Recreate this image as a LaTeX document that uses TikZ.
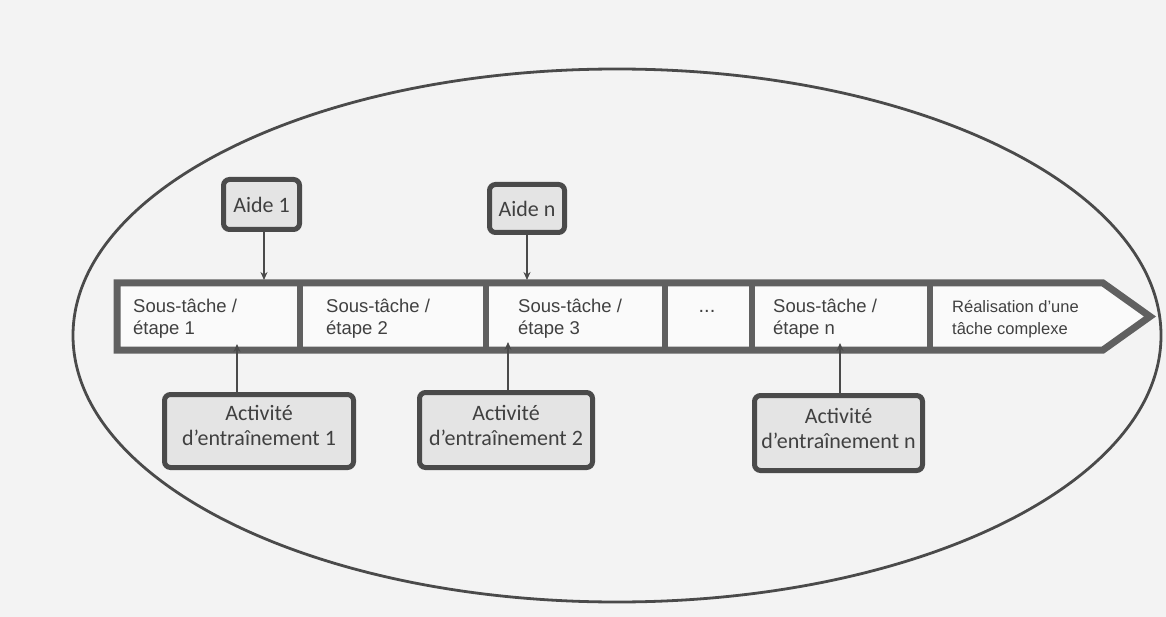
\documentclass[tikz,border=0pt]{standalone}
\usepackage{fontspec}
\setmainfont{Liberation Sans}
\newfontfamily\carl{Carlito}
\usetikzlibrary{arrows.meta}
\definecolor{paper}{HTML}{F3F3F3}
\definecolor{ink}{HTML}{4A4A4A}
\definecolor{bandink}{HTML}{606060}
\definecolor{boxfill}{HTML}{E4E4E4}
\definecolor{cellfill}{HTML}{FAFAFA}
\definecolor{txt}{HTML}{404040}
\begin{document}
\begin{tikzpicture}[x=1pt,y=-1pt,
  helpbox/.style={draw=ink, line width=5pt, rounded corners=6pt, fill=boxfill, inner sep=0pt},
  boxtext/.style={inner sep=0pt, font=\carl\fontsize{22}{25}\selectfont, text=txt, align=center},
  cellbox/.style={minimum height=67pt, inner sep=0pt, outer sep=0pt},
  celltext/.style={anchor=west, align=left, font=\fontsize{18.5}{22}\selectfont, text=txt, inner sep=0pt},
  sep/.style={draw=bandink, line width=6pt},
  conn/.style={draw=ink, line width=1.8pt, -{Stealth[length=8pt,width=7pt]}},
]
\useasboundingbox (0,0) rectangle (1166,617);
\fill[paper] (0,0) rectangle (1166,617);

% ellipse
\draw[ink, line width=2.8pt] (617,335.5) ellipse [x radius=544, y radius=266.5];

% cells of the band (named, for the connectors)
\node[cellbox, minimum width=183pt] (c1) at (208.5,316.5) {};
\node[cellbox, minimum width=186pt] (c2) at (393,316.5) {};
\node[cellbox, minimum width=179pt] (c3) at (575.5,316.5) {};
\node[cellbox, minimum width=87pt]  (c4) at (708.5,316.5) {};
\node[cellbox, minimum width=178pt] (c5) at (841,316.5) {};
\node[cellbox, minimum width=173pt] (c6) at (1016.5,316.5) {};

% band outline (arrow shape)
\draw[bandink, line width=7pt, fill=cellfill, line join=miter]
  (c1.north west) -- (c6.north east) -- (1150,316.5) -- (c6.south east) -- (c1.south west) -- cycle;
\draw[sep] (c1.north east) -- (c1.south east);
\draw[sep] (c2.north east) -- (c2.south east);
\draw[sep] (c3.north east) -- (c3.south east);
\draw[sep] (c4.north east) -- (c4.south east);
\draw[sep] (c5.north east) -- (c5.south east);

% cell texts
\node[celltext] (t1) at (133,319) {Sous-tâche /\\étape 1};
\node[celltext] (t2) at (326,319) {Sous-tâche /\\étape 2};
\node[celltext] (t3) at (518,319) {Sous-tâche /\\étape 3};
\node[font=\fontsize{20}{22}\selectfont, text=txt, inner sep=0pt] (t4) at (707,311) {...};
\node[celltext] (t5) at (773,319) {Sous-tâche /\\étape n};
\node[celltext, font=\fontsize{16.5}{22}\selectfont] (t6) at (952,319) {Réalisation d'une\\tâche complexe};

% help boxes
\node[helpbox, minimum width=76pt, minimum height=50pt] (aide1) at (261.5,204.5) {};
\node[boxtext] (aide1t) at (aide1.center) {Aide 1};
\node[helpbox, minimum width=75pt, minimum height=48pt] (aiden) at (527,208.5) {};
\node[boxtext] (aident) at (aiden.center) {Aide n};

% activity boxes
\node[helpbox, minimum width=189pt, minimum height=73pt] (act1) at (259,431) {};
\node[boxtext] (act1t) at ([yshift=6pt]act1.center) {Activité\\d’entraînement 1};
\node[helpbox, minimum width=173pt, minimum height=75pt] (act2) at (506,430) {};
\node[boxtext] (act2t) at ([yshift=5pt]act2.center) {Activité\\d’entraînement 2};
\node[helpbox, minimum width=168pt, minimum height=75pt] (actn) at (838.5,433) {};
\node[boxtext] (actnt) at ([yshift=5pt]actn.center) {Activité\\d’entraînement n};

% connector targets
\coordinate (p1) at (237,344);
\coordinate (p2) at (508,342);
\coordinate (pn) at (840,343);

% connectors
\draw[conn, shorten >=3pt] (aide1.south -| 264,0) -- (264,0 |- c1.north);
\draw[conn, shorten >=3pt] (aiden.south) -- (aiden.south |- c3.north);
\draw[conn] (act1.north -| p1) -- (p1);
\draw[conn] (act2.north -| p2) -- (p2);
\draw[conn] (actn.north -| pn) -- (pn);
\end{tikzpicture}
\end{document}
